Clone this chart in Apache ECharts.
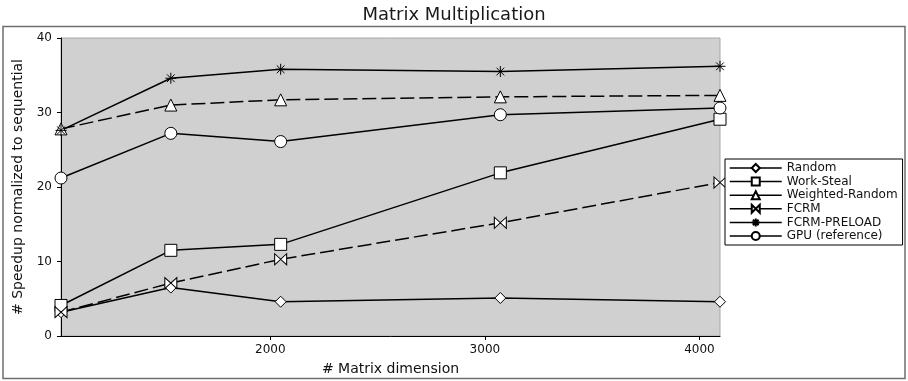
<!DOCTYPE html>
<html>
<head>
<meta charset="utf-8">
<script src="https://cdn.jsdelivr.net/npm/echarts@6/dist/echarts.min.js"></script>
<style>html,body{margin:0;padding:0;background:#fff;}#c{width:908px;height:381px;}</style>
</head>
<body>
<div id="c"></div>
<script>
const dims = [1024, 1536, 2048, 3072, 4096];
const xTicks = [2000, 3000, 4000];
const random = [3.2, 6.5, 4.6, 5.1, 4.6];
const workSteal = [4.1, 11.5, 12.3, 21.9, 29.1];
const weightedRandom = [27.8, 31.0, 31.7, 32.1, 32.3];
const fcrm = [3.2, 7.1, 10.3, 15.2, 20.6];
const fcrmPreload = [27.6, 34.6, 35.8, 35.5, 36.2];
const gpu = [21.2, 27.2, 26.1, 29.7, 30.6];

const FONT = 'DejaVu Sans';
const pairs = v => dims.map((d, i) => [d, v[i]]);
const BOWTIE = 'path://M0,0L10,5L0,10Z M20,0L10,5L20,10Z';
const STAR = 'path://M5,0L5,10M0,5L10,5M1.5,1.5L8.5,8.5M8.5,1.5L1.5,8.5';

function mk(name, data, symbol, size, dashed) {
  return {
    name, type: 'line', data: pairs(data),
    symbol, symbolSize: size,
    showAllSymbol: true,
    lineStyle: { color: '#000', width: 1.5, type: dashed ? [14, 5] : 'solid' },
    itemStyle: { color: '#fff', borderColor: '#000', borderWidth: 1 },
    emphasis: { disabled: true },
    animation: false,
    z: 3
  };
}

const chart = echarts.init(document.getElementById('c'), null, { renderer: 'canvas' });
chart.setOption({
  animation: false,
  textStyle: { fontFamily: FONT },
  title: {
    text: 'Matrix Multiplication', left: 'center', top: 1,
    textStyle: { fontFamily: FONT, fontSize: 18, fontWeight: 'normal', color: '#1a1a1a' }
  },
  graphic: [{
    type: 'rect', z: -1,
    shape: { x: 3, y: 26.5, width: 902, height: 352 },
    style: { fill: 'none', stroke: '#6e6e6e', lineWidth: 1.5 }
  }],
  grid: {
    left: 61, right: 188, top: 38, bottom: 45,
    show: true, backgroundColor: '#d0d0d0', borderColor: '#a8a8a8', borderWidth: 1
  },
  legend: {
    orient: 'vertical', left: 725, top: 159,
    backgroundColor: '#fff', borderColor: '#000', borderWidth: 1,
    padding: [3, 5, 3, 4], itemGap: 1.6,
    itemWidth: 52, itemHeight: 10,
    lineStyle: { type: 'solid', width: 1.5 },
    textStyle: { fontFamily: FONT, fontSize: 12, color: '#111' },
    data: ['Random', 'Work-Steal', 'Weighted-Random', 'FCRM', 'FCRM-PRELOAD', 'GPU (reference)']
  },
  xAxis: {
    type: 'value', min: 1024, max: 4096,
    name: '# Matrix dimension', nameLocation: 'middle', nameGap: 26,
    nameTextStyle: { fontFamily: FONT, fontSize: 14, color: '#111' },
    axisLine: { show: true, lineStyle: { color: '#000', width: 1 } },
    axisTick: { show: true, length: 4, customValues: xTicks, lineStyle: { color: '#000' } },
    axisLabel: { customValues: xTicks, formatter: v => String(v), fontFamily: FONT, fontSize: 12, color: '#111', margin: 8 },
    splitLine: { show: false }
  },
  yAxis: {
    type: 'value', min: 0, max: 40, interval: 10,
    name: '# Speedup normalized to sequential', nameLocation: 'middle', nameGap: 36,
    nameTextStyle: { fontFamily: FONT, fontSize: 14, color: '#111' },
    axisLine: { show: true, lineStyle: { color: '#000', width: 1 } },
    axisTick: { show: true, length: 4, lineStyle: { color: '#000' } },
    axisLabel: { fontFamily: FONT, fontSize: 12, color: '#111', margin: 9 },
    splitLine: { show: false }
  },
  series: [
    mk('Random', random, 'diamond', 11, false),
    mk('Work-Steal', workSteal, 'rect', 12, false),
    mk('Weighted-Random', weightedRandom, 'triangle', 12, true),
    mk('FCRM', fcrm, BOWTIE, [12, 11], true),
    mk('FCRM-PRELOAD', fcrmPreload, STAR, 11, false),
    mk('GPU (reference)', gpu, 'circle', 12, false)
  ]
});
</script>
</body>
</html>
